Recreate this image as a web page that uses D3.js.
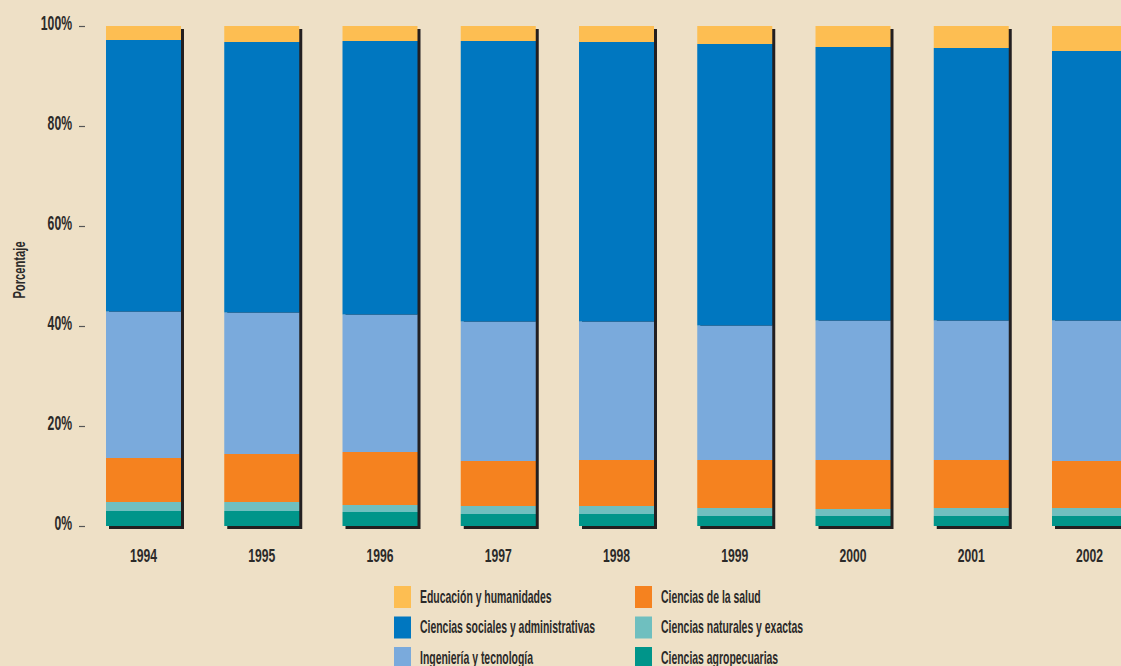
<!DOCTYPE html>
<html><head><meta charset="utf-8">
<script src="https://cdn.jsdelivr.net/npm/d3@7"></script>
<style>
html,body{margin:0;padding:0;background:#EEE0C6;}
svg{display:block;}
text{font-family:"Liberation Sans Narrow","Liberation Sans",Arial,sans-serif;fill:#2b2a29;font-weight:bold;}
</style></head>
<body>
<svg id="chart" width="1121" height="666"></svg>
<script>
const years = ["1994","1995","1996","1997","1998","1999","2000","2001","2002"];
const agropecuarias = [3.0, 3.0, 2.8, 2.4, 2.4, 2.0, 2.0, 2.0, 2.0];
const naturales     = [1.8, 1.8, 1.4, 1.6, 1.6, 1.6, 1.4, 1.6, 1.6];
const salud         = [8.8, 9.6, 10.6, 9.0, 9.2, 9.6, 9.8, 9.6, 9.4];
const ingenieria    = [29.3, 28.3, 27.5, 27.9, 27.7, 26.9, 27.9, 27.9, 28.1];
const sociales      = [54.3, 54.1, 54.7, 56.1, 55.9, 56.3, 54.7, 54.5, 53.9];
const educacion     = [2.8, 3.2, 3.0, 3.0, 3.2, 3.6, 4.2, 4.4, 5.0];
const yTicks = [0, 20, 40, 60, 80, 100];

const seriesNames = ["Ciencias agropecuarias","Ciencias naturales y exactas","Ciencias de la salud",
  "Ingeniería y tecnología","Ciencias sociales y administrativas","Educación y humanidades"];
const seriesKeys = ["agro","nat","salud","ing","soc","edu"];
const seriesValues = [agropecuarias, naturales, salud, ingenieria, sociales, educacion];
const colors = {agro:"#00958A", nat:"#6FBFBF", salud:"#F5821F", ing:"#7AAADC", soc:"#0077C0", edu:"#FDBE52"};

const rows = years.map((y,i)=>{const r={year:y}; seriesKeys.forEach((k,j)=>r[k]=seriesValues[j][i]); return r;});
const stack = d3.stack().keys(seriesKeys)(rows);

const svg = d3.select("#chart");
function condense(sel, s){
  sel.each(function(){
    const t = d3.select(this);
    const x = +t.attr("x") || 0;
    t.attr("x", x/s).attr("transform", `scale(${s},1)`);
  });
}

const step = 118.25, bw = 75, x0 = 106;
const pin = 1 - bw/step;
const x = d3.scaleBand().domain(years)
  .range([x0 - (step-bw)/2, x0 - (step-bw)/2 + years.length*step])
  .paddingInner(pin).paddingOuter(pin/2);
const y = d3.scaleLinear().domain([0,100]).range([526, 26]);

// shadows
svg.append("g").selectAll("rect").data(rows).join("rect")
  .attr("x", d=>x(d.year)+3).attr("y", y(100)+3)
  .attr("width", x.bandwidth()).attr("height", y(0)-y(100))
  .attr("fill", "#231F20");

// bars
svg.append("g").selectAll("g").data(stack).join("g")
  .attr("fill", d=>colors[d.key])
  .selectAll("rect").data(d=>d).join("rect")
  .attr("x", d=>x(d.data.year)).attr("y", d=>y(d[1]))
  .attr("width", x.bandwidth()).attr("height", d=>y(d[0])-y(d[1]));

// y axis
const ya = svg.append("g").attr("transform","translate(85,0)")
  .call(d3.axisLeft(y).tickValues(yTicks).tickSize(6).tickPadding(7).tickFormat(d=>d+"%"));
ya.select(".domain").remove();
ya.selectAll(".tick line").attr("stroke","#555").attr("stroke-width",1.2);
ya.selectAll(".tick text").attr("font-size",20).attr("font-family",null).attr("fill","#2b2a29").attr("dy","3px");
condense(ya.selectAll(".tick text"), 0.61);

// x axis labels
const xa = svg.append("g").attr("transform","translate(0,562)")
  .call(d3.axisBottom(x).tickSize(0).tickPadding(0));
xa.select(".domain").remove();
xa.selectAll(".tick text").attr("font-size",19).attr("font-family",null).attr("fill","#2b2a29").attr("dy",0).attr("y",0);
condense(xa.selectAll(".tick text"), 0.64);

// y label
svg.append("text").attr("transform","translate(25,270) rotate(-90) scale(0.7,1)")
  .attr("text-anchor","middle").attr("font-size",16).text("Porcentaje");

// legend
const legendItems = [
  {k:"edu", col:0, row:0}, {k:"soc", col:0, row:1}, {k:"ing", col:0, row:2},
  {k:"salud", col:1, row:0}, {k:"nat", col:1, row:1}, {k:"agro", col:1, row:2}
];
const lg = svg.append("g");
const li = lg.selectAll("g").data(legendItems).join("g")
  .attr("transform", d=>`translate(${d.col ? 635 : 394},${586 + d.row*30.5})`);
li.append("rect").attr("width",17).attr("height",22).attr("fill", d=>colors[d.k]);
li.append("text").attr("x",26).attr("y",17).attr("font-size",18)
  .text(d=>seriesNames[seriesKeys.indexOf(d.k)]);
condense(li.selectAll("text"), 0.58);
</script>
</body></html>
